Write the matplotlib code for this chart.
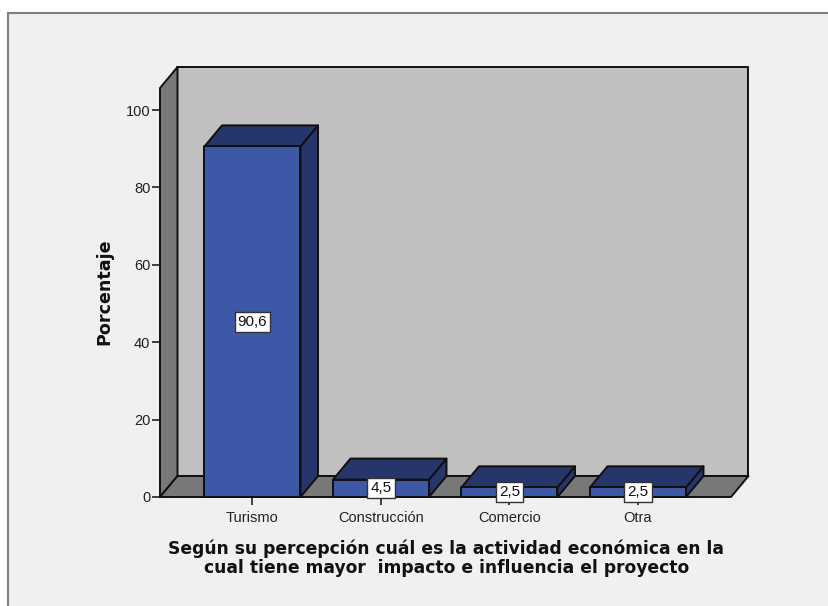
import matplotlib
matplotlib.use("Agg")
import matplotlib.pyplot as plt
from matplotlib.patches import Rectangle

categories = ["Turismo", "Construcción", "Comercio", "Otra"]
values = [90.6, 4.5, 2.5, 2.5]
value_labels = ["90,6", "4,5", "2,5", "2,5"]
yticks = [0, 20, 40, 60, 80, 100]
xlabel = "Según su percepción cuál es la actividad económica en la\ncual tiene mayor  impacto e influencia el proyecto"
ylabel = "Porcentaje"

W, H = 829, 606
fig = plt.figure(figsize=(W / 100, H / 100), dpi=100, facecolor="white")
fig.add_artist(Rectangle((8 / W, -0.01), 1.0, (606 - 12.5) / H + 0.01, transform=fig.transFigure,
                         facecolor="#f0f0f0", edgecolor="#808080", linewidth=1.5, zorder=-5))

left, right, bottom, top = 160, 731, 497, 88
ax = fig.add_axes([left / W, 1 - bottom / H, (right - left) / W, (bottom - top) / H])
ax.patch.set_visible(False)
for s in ax.spines.values():
    s.set_visible(False)

ppx = 128.5
ppy = 3.87
x0 = -(252.5 - left) / ppx
x1 = x0 + (right - left) / ppx
ymax = (bottom - top) / ppy
ax.set_xlim(x0, x1)
ax.set_ylim(0, ymax)
dx = 17.5 / ppx
dy = 21 / ppy
bw = 96 / ppx

edge = "#101010"
lw = 1.4
kw = dict(edgecolor=edge, linewidth=lw, clip_on=False, joinstyle="round")

# walls
ax.fill([x0 + dx, x1 + dx, x1 + dx, x0 + dx], [dy, dy, ymax + dy, ymax + dy],
        facecolor="#c0c0c0", zorder=1, **kw)
ax.fill([x0, x0 + dx, x0 + dx, x0], [0, dy, ymax + dy, ymax],
        facecolor="#787878", zorder=2, **kw)
ax.fill([x0, x1, x1 + dx, x0 + dx], [0, 0, dy, dy],
        facecolor="#787878", zorder=2, **kw)

# bars
for i, v in enumerate(values):
    l, r = i - bw / 2, i + bw / 2
    ax.fill([r, r + dx, r + dx, r], [0, dy, v + dy, v], facecolor="#26366b", zorder=3, **kw)
    ax.fill([l, r, r + dx, l + dx], [v, v, v + dy, v + dy], facecolor="#26366b", zorder=3, **kw)
    ax.fill([l, r, r, l], [0, 0, v, v], facecolor="#3e58a8", zorder=4, **kw)
    ax.text(i, v / 2, value_labels[i], ha="center", va="center", fontsize=11,
            family="Liberation Sans", color="#111111", zorder=6, clip_on=False,
            bbox=dict(boxstyle="square,pad=0.2", facecolor="white", edgecolor="#333333", linewidth=1))

ax.set_yticks(yticks)
ax.set_xticks(range(len(categories)))
ax.set_xticklabels(categories)
ax.tick_params(axis="y", length=6, width=1.2, color="#222222", pad=1, labelsize=10.5, labelcolor="#222222")
ax.tick_params(axis="x", length=6, width=1.2, color="#222222", pad=4, labelsize=10.5, labelcolor="#222222")
for t in ax.get_xticklabels() + ax.get_yticklabels():
    t.set_family("Liberation Sans")

fig.text(104 / W, 1 - 292 / H, ylabel, rotation=90, ha="center", va="center",
         fontsize=12.6, fontweight="bold", family="DejaVu Sans", color="#111111")
fig.text(446.5 / W, 1 - 558 / H, xlabel, ha="center", va="center", fontsize=12.3,
         fontweight="bold", family="DejaVu Sans", color="#111111", linespacing=1.1)

fig.savefig("out.png", dpi=100, facecolor="white")
